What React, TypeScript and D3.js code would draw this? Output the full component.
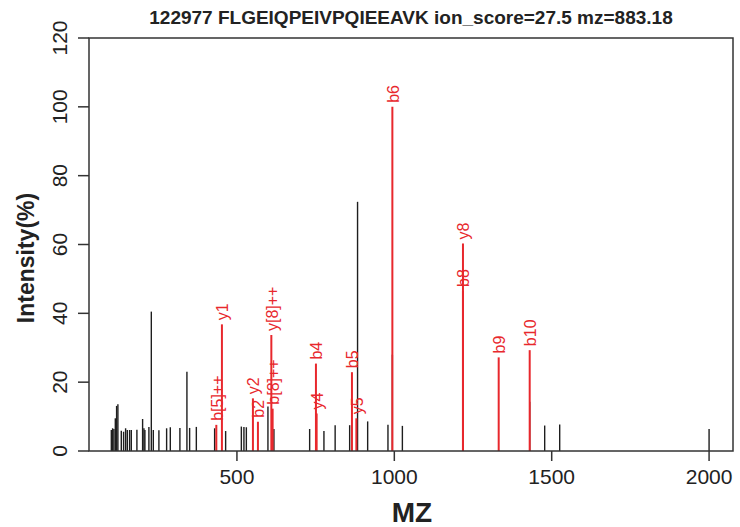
import React from "react";
import * as d3 from "d3";

const title = "122977 FLGEIQPEIVPQIEEAVK ion_score=27.5 mz=883.18";

// unmatched (black) peaks: m/z and relative intensity (%)
const blackMz = [100.9, 105.0, 109.1, 113.6, 117.7, 121.8, 132.6, 139.9, 146.3, 151.7, 159.0, 164.4, 182.2, 200.3, 204.5, 207.6, 220.3, 228.0, 234.3, 252.1, 276.6, 288.3, 318.8, 341.1, 349.7, 371.0, 429.1, 464.1, 514.0, 522.2, 529.9, 598.5, 617.5, 731.0, 776.4, 812.0, 858.1, 883.2, 915.3, 979.8, 993.8, 1025.6, 1218.1, 1430.1, 1477.7, 1525.4, 2000.0];
const blackInt = [6.1, 6.6, 6.4, 9.5, 13.1, 13.6, 5.9, 5.6, 6.6, 6.1, 6.1, 6.1, 6.2, 9.3, 6.6, 6.1, 7.0, 40.5, 6.1, 6.0, 6.6, 6.9, 6.7, 23.0, 6.7, 7.0, 6.6, 5.8, 7.1, 7.0, 6.9, 12.9, 6.4, 6.4, 5.8, 7.5, 7.5, 72.4, 8.6, 7.6, 28.0, 7.3, 11.8, 14.3, 7.4, 7.7, 6.4];

// matched (red) fragment ions
const ionLabels = ["b[5]++", "y1", "y2", "b2", "y[8]++", "b[8]++", "b4", "y4", "b5", "y5", "b6", "b8", "y8", "b9", "b10"];
const ionMz = [434.5, 452.3, 550.8, 566.7, 609.3, 613.4, 751.0, 753.2, 865.4, 879.4, 993.8, 1218.1, 1218.1, 1331.6, 1430.1];
const ionInt = [7.6, 36.8, 15.3, 8.5, 33.7, 12.3, 25.4, 10.9, 22.9, 9.5, 100, 46.5, 60.3, 27.2, 29.3];

const xTicks = [500, 1000, 1500, 2000];
const yTicks = [0, 20, 40, 60, 80, 100, 120];

const W = 740;
const H = 527;
const M = { left: 89, right: 733, top: 38, bottom: 451 };
const RED = "#e8282d";
const FONT = "'Liberation Sans', Arial, Helvetica, sans-serif";

export default function App() {
  const x = d3.scaleLinear().domain([30, 2076]).range([M.left, M.right]);
  const y = d3.scaleLinear().domain([0, 120]).range([M.bottom, M.top]);

  return (
    <>
      <style>{`body{margin:0;}`}</style>
      <svg width={W} height={H} style={{ display: "block", background: "#fff" }} fontFamily={FONT}>
        {/* black peaks */}
        <g stroke="#1e1e1e" strokeWidth={1.4}>
          {blackMz.map((m, i) => (
            <line key={"b" + i} x1={x(m)} x2={x(m)} y1={y(0)} y2={y(blackInt[i])} />
          ))}
        </g>
        {/* red peaks */}
        <g stroke={RED} strokeWidth={2}>
          {ionMz.map((m, i) => (
            <line key={"r" + i} x1={x(m)} x2={x(m)} y1={y(0)} y2={y(ionInt[i])} />
          ))}
        </g>
        {/* ion labels */}
        <g fill={RED} fontSize={16}>
          {ionMz.map((m, i) => (
            <text
              key={"l" + i}
              transform={`translate(${x(m) + 1},${y(ionInt[i]) - 4}) rotate(-90)`}
              textAnchor="start"
              dominantBaseline="central"
            >
              {ionLabels[i]}
            </text>
          ))}
        </g>
        {/* box */}
        <rect
          x={M.left}
          y={M.top}
          width={M.right - M.left}
          height={M.bottom - M.top}
          fill="none"
          stroke="#333"
          strokeWidth={1.5}
        />
        {/* x axis */}
        <g>
          {xTicks.map((t) => (
            <g key={"xt" + t}>
              <line x1={x(t)} x2={x(t)} y1={M.bottom} y2={M.bottom + 10} stroke="#333" strokeWidth={1.5} />
              <text x={x(t)} y={484} textAnchor="middle" fontSize={21} fill="#222">
                {t}
              </text>
            </g>
          ))}
        </g>
        {/* y axis */}
        <g>
          {yTicks.map((t) => (
            <g key={"yt" + t}>
              <line x1={M.left - 11} x2={M.left} y1={y(t)} y2={y(t)} stroke="#333" strokeWidth={1.5} />
              <text
                transform={`translate(67,${y(t)}) rotate(-90)`}
                textAnchor="middle"
                fontSize={21}
                fill="#222"
              >
                {t}
              </text>
            </g>
          ))}
        </g>
        {/* titles */}
        <text x={(M.left + M.right) / 2} y={24} textAnchor="middle" fontSize={19} fontWeight="bold" fill="#222">
          {title}
        </text>
        <text x={(M.left + M.right) / 2 + 1} y={522} textAnchor="middle" fontSize={28} fontWeight="bold" fill="#222">
          MZ
        </text>
        <text
          transform={`translate(34,258) rotate(-90)`}
          textAnchor="middle"
          fontSize={23}
          fontWeight="bold"
          fill="#222"
        >
          Intensity(%)
        </text>
      </svg>
    </>
  );
}
